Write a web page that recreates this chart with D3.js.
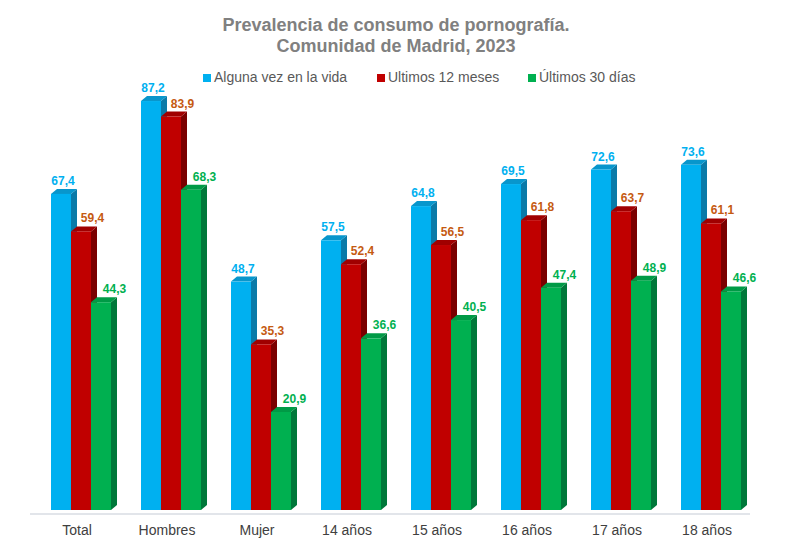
<!DOCTYPE html>
<html><head><meta charset="utf-8">
<script src="https://cdn.jsdelivr.net/npm/d3@7"></script>
<style>body{margin:0;background:#fff}svg{display:block}</style>
</head><body>
<script>
const categories = ["Total","Hombres","Mujer","14 años","15 años","16 años","17 años","18 años"];
const seriesNames = ["Alguna vez en la vida","Ultimos 12 meses","Últimos 30 días"];
const alguna = [67.4,87.2,48.7,57.5,64.8,69.5,72.6,73.6];
const ult12 = [59.4,83.9,35.3,52.4,56.5,61.8,63.7,61.1];
const ult30 = [44.3,68.3,20.9,36.6,40.5,47.4,48.9,46.6];
const seriesValues = [alguna, ult12, ult30];

const W=788,H=559;
const front=["#00b0f0","#c00000","#00b050"];
const side=["#0a7aa8","#7a0000","#00783a"];
const top_=["#0896cc","#a00000","#009a46"];
const labelCol=["#00b0f0","#c55a11","#00b050"];
const labelDx=[2,11.5,13.5];
const DX=6, DY=5;

const svg=d3.select("body").append("svg").attr("width",W).attr("height",H);
const font="'Liberation Sans', Arial, sans-serif";

// title
const t=svg.append("text").attr("text-anchor","middle").attr("font-family",font)
  .attr("font-weight","bold").attr("font-size",18).attr("fill","#808080");
t.append("tspan").attr("x",396).attr("y",31).text("Prevalencia de consumo de pornografía.");
t.append("tspan").attr("x",396).attr("y",52).text("Comunidad de Madrid, 2023");

// legend
const legX=[203,377,528];
seriesNames.forEach((n,i)=>{
  svg.append("rect").attr("x",legX[i]).attr("y",74).attr("width",8).attr("height",8).attr("fill",front[i]);
  svg.append("text").attr("x",legX[i]+11).attr("y",82).attr("font-family",font).attr("font-size",14)
    .attr("fill","#595959").text(n);
});

const x=d3.scaleBand().domain(categories).range([36,756]).paddingInner(1/3).paddingOuter(1/6);
const xs=d3.scaleBand().domain(d3.range(3)).range([0,x.bandwidth()]);
const y=d3.scaleLinear().domain([0,100]).range([510,41]);

// axis line
svg.append("line").attr("x1",30).attr("x2",750).attr("y1",514).attr("y2",514)
  .attr("stroke","#d9dce3").attr("stroke-width",1.5);

// category labels
const xa=d3.axisBottom(x).tickSize(0).tickPadding(0);
const ag=svg.append("g").attr("transform","translate(-4,521)").call(xa);
ag.select(".domain").remove();
ag.selectAll("text").attr("font-family",font).attr("font-size",14).attr("fill","#404040").attr("dy","14");

// bars
categories.forEach((c,ci)=>{
  const g=svg.append("g");
  seriesValues.forEach((vals,si)=>{
    const v=vals[ci];
    const x0=x(c)+xs(si), w=xs.bandwidth(), yt=y(v), yb=y(0);
    // side
    g.append("path").attr("d",`M${x0+w},${yt}L${x0+w+DX},${yt-DY}L${x0+w+DX},${yb-DY}L${x0+w},${yb}Z`).attr("fill",side[si]);
    // top
    g.append("path").attr("d",`M${x0},${yt}L${x0+DX},${yt-DY}L${x0+w+DX},${yt-DY}L${x0+w},${yt}Z`).attr("fill",top_[si]);
    // front
    g.append("rect").attr("x",x0).attr("y",yt).attr("width",w).attr("height",yb-yt).attr("fill",front[si]);
  });
  seriesValues.forEach((vals,si)=>{
    const v=vals[ci];
    const x0=x(c)+xs(si), w=xs.bandwidth();
    svg.append("text").attr("x",x0+w/2+labelDx[si]).attr("y",y(v)-9).attr("text-anchor","middle")
      .attr("font-family",font).attr("font-weight","bold").attr("font-size",12).attr("fill",labelCol[si])
      .text(d3.format(".1f")(v).replace(".",","));
  });
});
</script>
</body></html>
